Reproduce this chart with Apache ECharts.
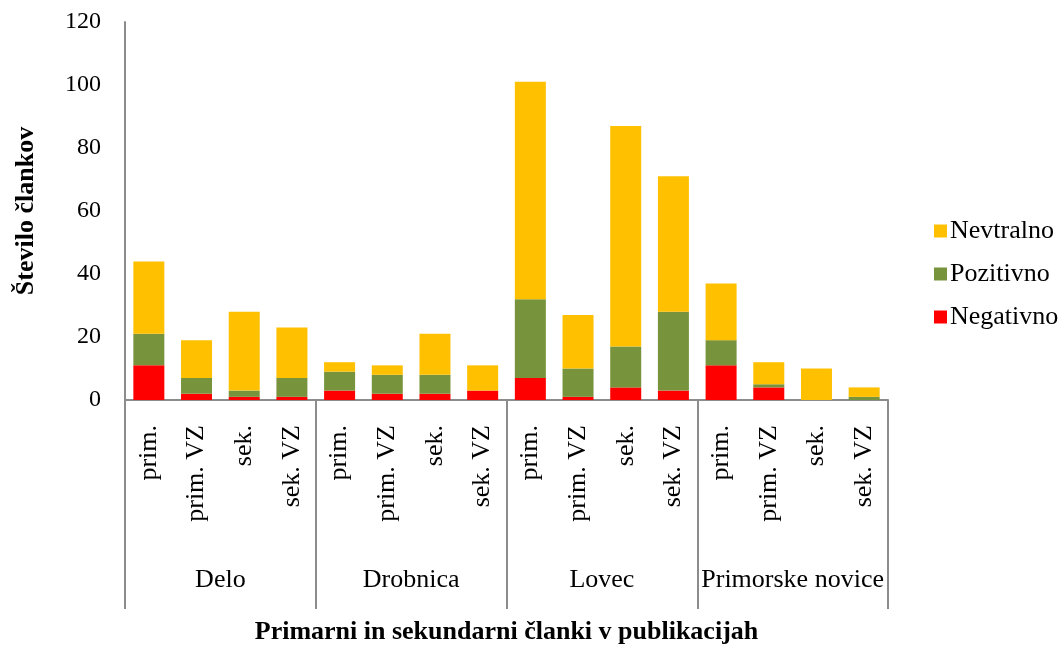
<!DOCTYPE html>
<html>
<head>
<meta charset="utf-8">
<script src="https://cdn.jsdelivr.net/npm/echarts@6/dist/echarts.min.js"></script>
<style>
  html, body { margin: 0; padding: 0; background: #fff; }
  #myChart { width: 1064px; height: 645px; }
</style>
</head>
<body>
<div id="myChart"></div>
<script>
// podatki
var categories = ['prim.', 'prim. VZ', 'sek.', 'sek. VZ',
                  'prim.', 'prim. VZ', 'sek.', 'sek. VZ',
                  'prim.', 'prim. VZ', 'sek.', 'sek. VZ',
                  'prim.', 'prim. VZ', 'sek.', 'sek. VZ']
var groups = ['Delo', 'Drobnica', 'Lovec', 'Primorske novice']
var negativno = [11, 2, 1, 1, 3, 2, 2, 3, 7, 1, 4, 3, 11, 4, 0, 0]
var pozitivno = [10, 5, 2, 6, 6, 6, 6, 0, 25, 9, 13, 25, 8, 1, 0, 1]
var nevtralno = [23, 12, 25, 16, 3, 3, 13, 8, 69, 17, 70, 43, 18, 7, 10, 3]

var font = "'Liberation Serif', 'Times New Roman', serif"
var axisGray = '#8c8c8c'

let myChart = echarts.init(document.getElementById('myChart'))
myChart.setOption({
  animation: false,
  textStyle: { fontFamily: font, color: '#000' },
  legend: {
    orient: 'vertical',
    left: 929,
    top: 213,
    itemWidth: 13,
    itemHeight: 13,
    itemGap: 17,
    icon: 'rect',
    data: ['Nevtralno', 'Pozitivno', 'Negativno'],
    textStyle: { fontFamily: font, fontSize: 26, color: '#000', padding: [0, 0, 0, -2] }
  },
  grid: { left: 125, right: 176, top: 22, bottom: 245, outerBoundsMode: 'none', containLabel: false },
  xAxis: [
    {
      type: 'category',
      data: categories,
      axisLine: { lineStyle: { color: axisGray, width: 2 } },
      axisTick: { show: false },
      axisLabel: {
        interval: 0,
        rotate: 90,
        margin: 25,
        fontFamily: font,
        fontSize: 26,
        color: '#000'
      },
      name: 'Primarni in sekundarni članki v publikacijah',
      nameLocation: 'middle',
      nameGap: 219,
      nameTextStyle: { fontFamily: font, fontSize: 26, fontWeight: 'bold', color: '#000' }
    },
    {
      type: 'category',
      data: groups,
      position: 'bottom',
      axisLine: { show: false },
      axisTick: { show: true, interval: 0, length: 209, lineStyle: { color: axisGray, width: 2 } },
      axisLabel: {
        interval: 0,
        margin: 167,
        fontFamily: font,
        fontSize: 26,
        color: '#000'
      }
    }
  ],
  yAxis: {
    type: 'value',
    min: 0,
    max: 120,
    interval: 20,
    axisLine: { show: true, lineStyle: { color: axisGray, width: 2 } },
    axisTick: { show: false },
    splitLine: { show: false },
    axisLabel: { margin: 24, fontFamily: font, fontSize: 24, color: '#000' },
    name: 'Število člankov',
    nameLocation: 'middle',
    nameGap: 86,
    nameTextStyle: { fontFamily: font, fontSize: 26, fontWeight: 'bold', color: '#000' }
  },
  series: [
    {
      name: 'Negativno',
      type: 'bar',
      stack: 'vsi',
      barWidth: 31,
      itemStyle: { color: '#FF0000' },
      data: negativno
    },
    {
      name: 'Pozitivno',
      type: 'bar',
      stack: 'vsi',
      barWidth: 31,
      itemStyle: { color: '#77933C' },
      data: pozitivno
    },
    {
      name: 'Nevtralno',
      type: 'bar',
      stack: 'vsi',
      barWidth: 31,
      itemStyle: { color: '#FFC000' },
      data: nevtralno
    }
  ]
})
</script>
</body>
</html>
